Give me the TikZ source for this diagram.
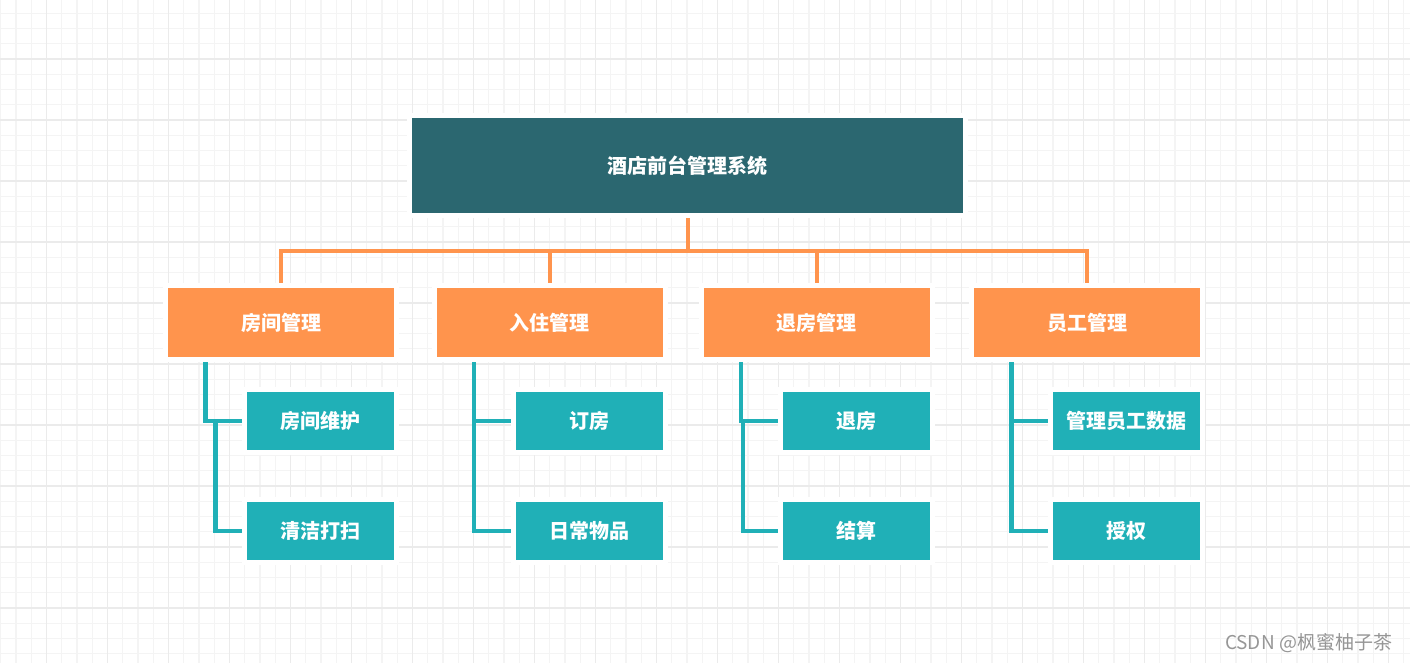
\documentclass[tikz,border=0pt]{standalone}
\usepackage{fontspec}
\newfontfamily\cjk{Noto Sans CJK SC}
\usetikzlibrary{backgrounds}
\definecolor{topteal}{RGB}{43,103,112}
\definecolor{midorange}{RGB}{255,148,77}
\definecolor{leafteal}{RGB}{32,176,183}
\definecolor{gridmajor}{RGB}{235,235,235}
\definecolor{gridminor}{RGB}{244,244,244}
\definecolor{markgray}{RGB}{150,150,150}

\begin{document}
\begin{tikzpicture}[x=1pt,y=-1pt,
  box/.style={inner sep=0pt,text=white,font=\cjk\bfseries\fontsize{20}{24}\selectfont,preaction={draw=white,line width=10pt}},
  topbox/.style={box,fill=topteal,minimum width=551pt,minimum height=95pt},
  midbox/.style={box,fill=midorange,minimum width=226pt,minimum height=69pt},
  leafbox/.style={box,fill=leafteal,minimum width=147pt,minimum height=58pt},
  midline/.style={draw=midorange,line width=4pt},
  leafline/.style={draw=leafteal,line width=4.5pt}]
  \useasboundingbox (0,0) rectangle (1410,663);

  \node[topbox] (hotel) at (687.5,165.5) {酒店前台管理系统};

  \node[midbox] (room) at (281,322.5) {房间管理};
  \node[midbox] (checkin) at (549.5,322.5) {入住管理};
  \node[midbox] (checkout) at (816.5,322.5) {退房管理};
  \node[midbox] (staff) at (1087,322.5) {员工管理};

  \node[leafbox] (upkeep) at (320.5,421) {房间维护};
  \node[leafbox] (clean) at (320.5,531) {清洁打扫};
  \node[leafbox] (book) at (589,421) {订房};
  \node[leafbox] (goods) at (589,531) {日常物品};
  \node[leafbox] (leave) at (856,421) {退房};
  \node[leafbox] (bill) at (856,531) {结算};
  \node[leafbox] (staffdata) at (1126.5,421) {管理员工数据};
  \node[leafbox] (grant) at (1126.5,531) {授权};

  \node[font=\cjk\fontsize{19}{22}\selectfont,text=markgray] (mark) at (1308.5,643) {CSDN @枫蜜柚子茶};

  \begin{pgfonlayer}{background}
    \fill[white] (0,0) rectangle (1410,663);
    \foreach \k in {0,...,92}
      \draw[gridminor,line width=1.3pt] ({0.75+15.25*\k},0) -- ({0.75+15.25*\k},663);
    \foreach \k in {0,...,43}
      \draw[gridminor,line width=1.3pt] (0,{13.25+15.25*\k}) -- (1410,{13.25+15.25*\k});
    \foreach \k in {-1,...,22}
      \draw[gridmajor,line width=1.7pt] ({46.5+61*\k},0) -- ({46.5+61*\k},663);
    \foreach \k in {-1,...,10}
      \draw[gridmajor,line width=1.7pt] (0,{59+61*\k}) -- (1410,{59+61*\k});

    \coordinate (bus) at (0,251);
    \draw[midline] (hotel.south) -- (hotel.south |- bus);
    \draw[midline] (room.north) -- (room.north |- bus) -- (staff.north |- bus) -- (staff.north);
    \draw[midline] (checkin.north) -- (checkin.north |- bus);
    \draw[midline] (checkout.north) -- (checkout.north |- bus);

    \draw[leafline] ([xshift=37.5pt]room.south west) |- (upkeep.west);
    \draw[leafline] ([xshift=47.5pt]room.south west |- upkeep.west) |- (clean.west);
    \draw[leafline] ([xshift=37.5pt]checkin.south west) |- (book.west);
    \draw[leafline] ([xshift=37.5pt]checkin.south west |- book.west) |- (goods.west);
    \draw[leafline] ([xshift=37.5pt]checkout.south west) |- (leave.west);
    \draw[leafline] ([xshift=39.5pt]checkout.south west |- leave.west) |- (bill.west);
    \draw[leafline] ([xshift=37.5pt]staff.south west) |- (staffdata.west);
    \draw[leafline] ([xshift=37.5pt]staff.south west |- staffdata.west) |- (grant.west);
  \end{pgfonlayer}
\end{tikzpicture}
\end{document}
